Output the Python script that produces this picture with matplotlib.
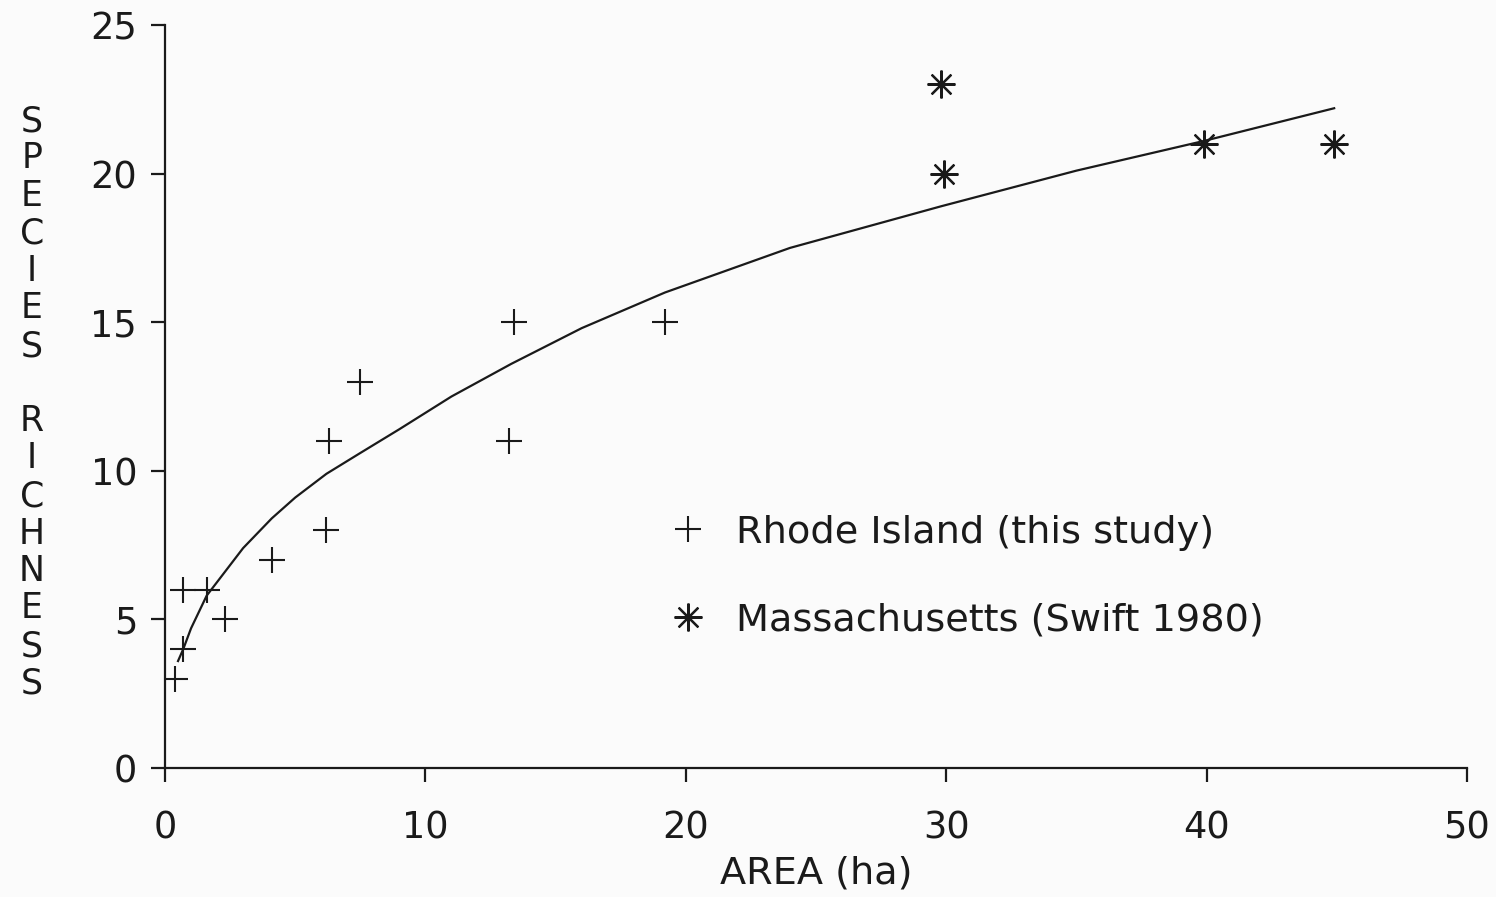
"""species-area plot: Rhode Island vs Massachusetts"""
import matplotlib
matplotlib.use("Agg")
import matplotlib.pyplot as plt

# Rhode Island (this study)
ri_area = [0.4, 0.7, 0.7, 1.6, 2.3, 4.1, 6.2, 6.3, 7.5, 13.2, 13.4, 19.2]
ri_rich = [3, 4, 6, 6, 5, 7, 8, 11, 13, 11, 15, 15]

# Massachusetts (Swift 1980)
ma_area = [29.8, 29.9, 39.9, 44.9]
ma_rich = [23, 20, 21, 21]

# fitted curve
fit_area = [0.5, 0.7, 1.0, 1.6, 2.3, 3.0, 4.1, 5.0, 6.2, 7.5, 9.0, 11.0,
            13.3, 16.0, 19.2, 24.0, 29.8, 35.0, 39.9, 44.9]
fit_rich = [3.6, 4.0, 4.7, 5.8, 6.6, 7.4, 8.4, 9.1, 9.9, 10.6, 11.4, 12.5,
            13.6, 14.8, 16.0, 17.5, 18.9, 20.1, 21.1, 22.2]

ylabel = "SPECIES RICHNESS"
ink = "#1a1a1a"

plt.rcParams['font.family'] = ['DejaVu Sans']

fig = plt.figure(figsize=(14.96, 8.97), dpi=100, facecolor="#fbfbfb")
ax = fig.add_axes([0.1103, 0.1438, 0.8703, 0.8283])
ax.set_facecolor("#fbfbfb")

ax.plot(fit_area, fit_rich, '-', color=ink, lw=1.6, zorder=2)
ax.plot(ri_area, ri_rich, linestyle='none', marker='+', ms=19, mew=1.5,
        color=ink, label="Rhode Island (this study)", zorder=3)
ax.plot(ma_area, ma_rich, linestyle='none', marker=(8, 2, 0), ms=20, mew=1.6,
        color=ink, label="Massachusetts (Swift 1980)", zorder=3)

ax.set_xlim(0, 50)
ax.set_ylim(0, 25)
ax.set_xticks(range(0, 51, 10))
ax.set_yticks(range(0, 26, 5))

for side in ('top', 'right'):
    ax.spines[side].set_visible(False)
for side in ('left', 'bottom'):
    ax.spines[side].set_linewidth(1.6)
    ax.spines[side].set_color(ink)

ax.tick_params(axis='both', direction='out', length=10, width=1.6,
               colors=ink, labelsize=26.5)
ax.tick_params(axis='y', pad=10)
ax.tick_params(axis='x', pad=20)

ax.set_xlabel("AREA (ha)", fontsize=27.5, color=ink, labelpad=6)

# stacked vertical y label, one letter per row
y_top = 1 - 121 / 897
step = 37.5 / 897
for i, ch in enumerate(ylabel):
    if ch == ' ':
        continue
    fig.text(32 / 1496, y_top - i * step, ch, ha='center', va='center',
             fontsize=25, color=ink)

ax.legend(loc='upper left', bbox_to_anchor=(0.361, 0.387), frameon=False,
          fontsize=27.5, handlelength=1.0, handletextpad=0.75, labelspacing=1.35,
          labelcolor=ink)

fig.savefig("out.png", dpi=100, facecolor=fig.get_facecolor())
